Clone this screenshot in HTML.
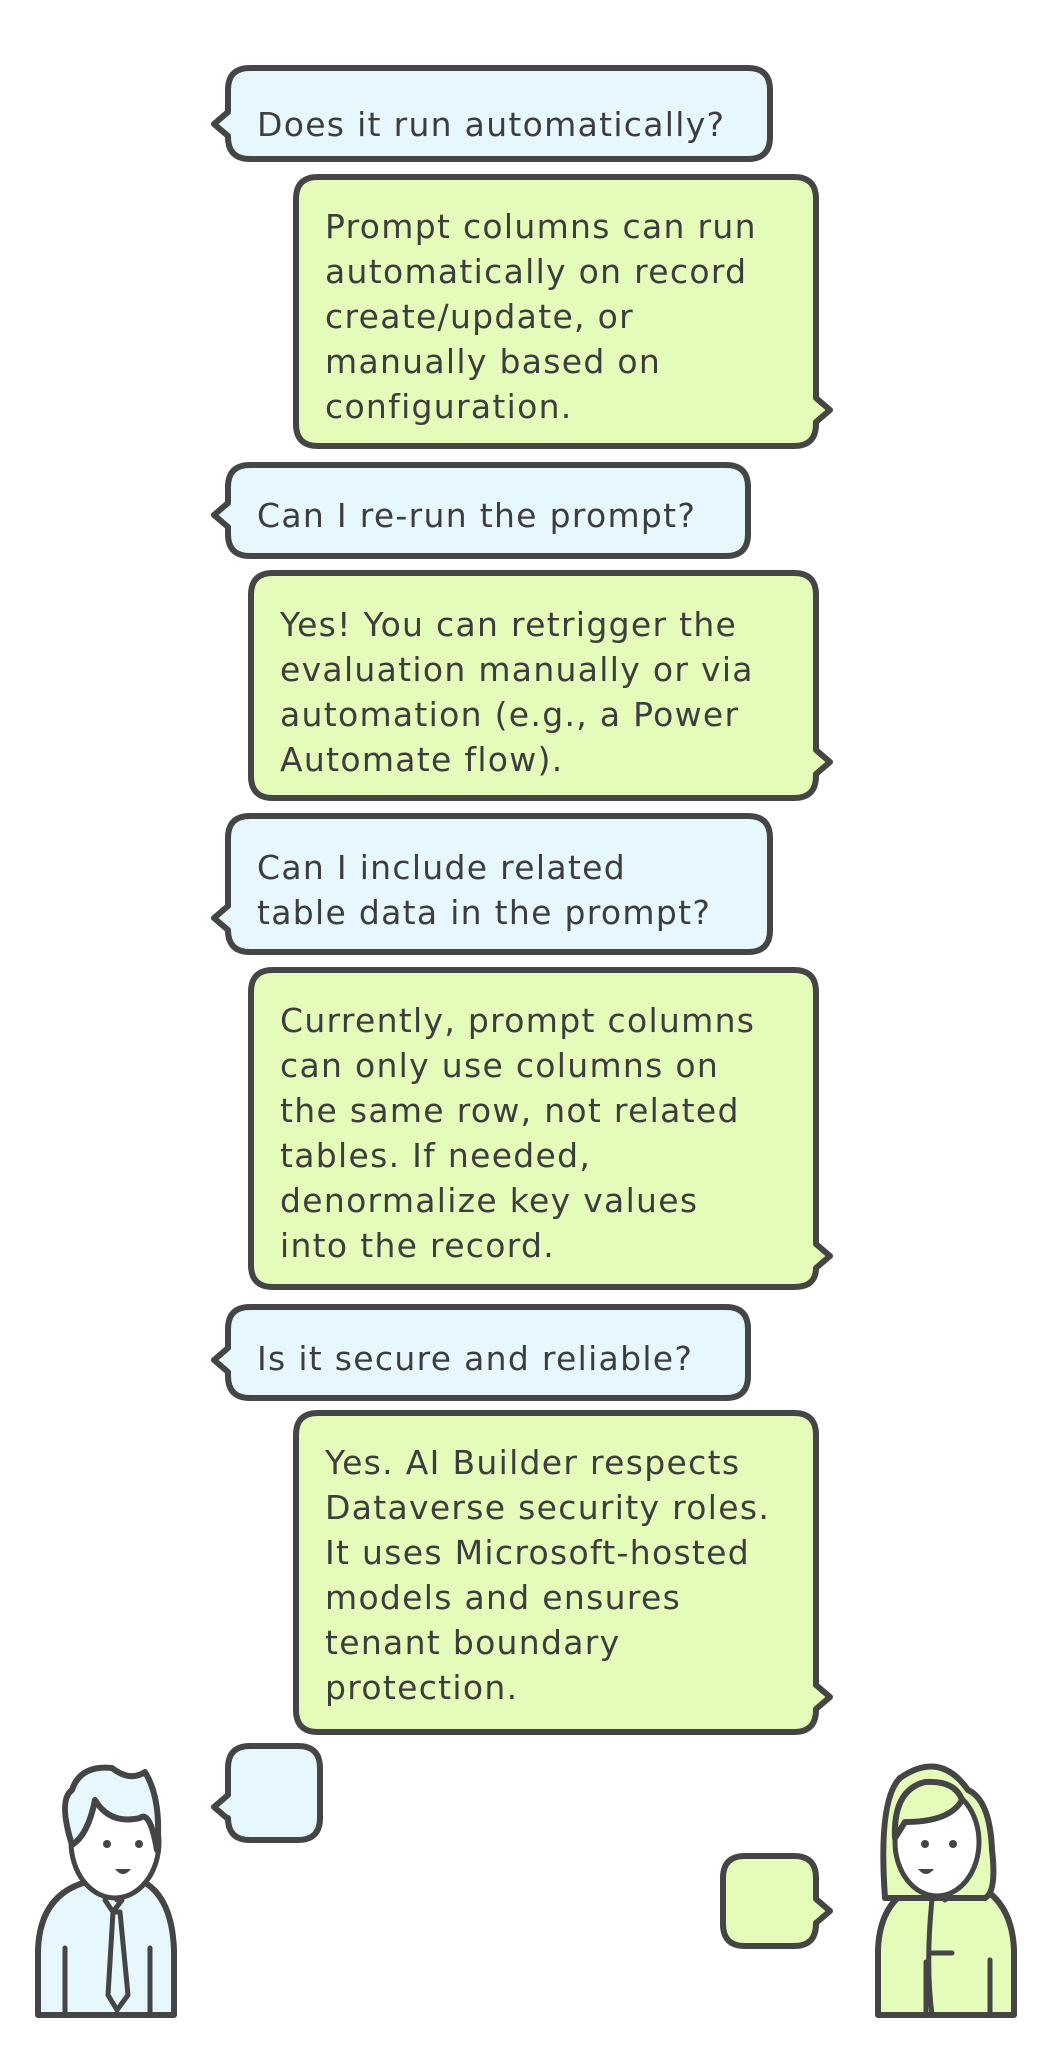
<!DOCTYPE html>
<html><head><meta charset="utf-8"><style>
html,body{margin:0;padding:0;background:#fff;}
svg{display:block;}
text{font-family:"DejaVu Sans","Liberation Sans",sans-serif;font-size:33px;fill:#3d3d3d;letter-spacing:1.3px;}
.b{fill:#e6f7fe;stroke:#454545;stroke-width:6;stroke-linejoin:round;}
.g{fill:#e5fbb9;stroke:#454545;stroke-width:6;stroke-linejoin:round;}
.l{fill:none;stroke:#454545;stroke-width:5;stroke-linecap:round;stroke-linejoin:round;}
.w{fill:#fff;stroke:#454545;stroke-width:5;stroke-linejoin:round;}
</style></head><body>
<svg width="1040" height="2046" viewBox="0 0 1040 2046" xmlns="http://www.w3.org/2000/svg">
<path class="b" d="M250,68 H748 Q770,68 770,90 V137 Q770,159 748,159 H250 Q228,159 228,137 V136 L214,124 L228,112 V90 Q228,68 250,68 Z"/>
<text x="257" y="136">Does it run automatically?</text>

<path class="g" d="M318,177 H794 Q816,177 816,199 V398 L830,410 L816,422 V424 Q816,446 794,446 H318 Q296,446 296,424 V199 Q296,177 318,177 Z"/>
<text x="325" y="238">Prompt columns can run</text>
<text x="325" y="283">automatically on record</text>
<text x="325" y="328">create/update, or</text>
<text x="325" y="373">manually based on</text>
<text x="325" y="418">configuration.</text>

<path class="b" d="M250,465 H726 Q748,465 748,487 V534 Q748,556 726,556 H250 Q228,556 228,534 V527 L214,515 L228,503 V487 Q228,465 250,465 Z"/>
<text x="257" y="527">Can I re-run the prompt?</text>

<path class="g" d="M273,573 H794 Q816,573 816,595 V750 L830,762 L816,774 V776 Q816,798 794,798 H273 Q251,798 251,776 V595 Q251,573 273,573 Z"/>
<text x="280" y="636">Yes! You can retrigger the</text>
<text x="280" y="681">evaluation manually or via</text>
<text x="280" y="726">automation (e.g., a Power</text>
<text x="280" y="771">Automate flow).</text>

<path class="b" d="M250,816 H748 Q770,816 770,838 V930 Q770,952 748,952 H250 Q228,952 228,930 V930 L214,918 L228,906 V838 Q228,816 250,816 Z"/>
<text x="257" y="879">Can I include related</text>
<text x="257" y="924">table data in the prompt?</text>

<path class="g" d="M273,970 H794 Q816,970 816,992 V1244 L830,1256 L816,1268 Q816,1287 794,1287 H273 Q251,1287 251,1265 V992 Q251,970 273,970 Z"/>
<text x="280" y="1032">Currently, prompt columns</text>
<text x="280" y="1077">can only use columns on</text>
<text x="280" y="1122">the same row, not related</text>
<text x="280" y="1167">tables. If needed,</text>
<text x="280" y="1212">denormalize key values</text>
<text x="280" y="1257">into the record.</text>

<path class="b" d="M250,1307 H726 Q748,1307 748,1329 V1376 Q748,1398 726,1398 H250 Q228,1398 228,1376 V1372 L214,1360 L228,1348 V1329 Q228,1307 250,1307 Z"/>
<text x="257" y="1370">Is it secure and reliable?</text>

<path class="g" d="M318,1413 H794 Q816,1413 816,1435 V1685 L830,1697 L816,1709 V1710 Q816,1732 794,1732 H318 Q296,1732 296,1710 V1435 Q296,1413 318,1413 Z"/>
<text x="325" y="1474">Yes. AI Builder respects</text>
<text x="325" y="1519">Dataverse security roles.</text>
<text x="325" y="1564">It uses Microsoft-hosted</text>
<text x="325" y="1609">models and ensures</text>
<text x="325" y="1654">tenant boundary</text>
<text x="325" y="1699">protection.</text>

<path class="b" d="M250,1746 H298 Q320,1746 320,1768 V1818 Q320,1840 298,1840 H250 Q228,1840 228,1818 V1819 L214,1807 L228,1795 V1768 Q228,1746 250,1746 Z"/>
<path class="g" d="M745,1856 H794 Q816,1856 816,1878 V1899 L830,1911 L816,1923 V1924 Q816,1946 794,1946 H745 Q723,1946 723,1924 V1878 Q723,1856 745,1856 Z"/>

<!-- man -->
<path class="b" d="M38,2015 V1950 Q40,1890 95,1880 L140,1880 Q172,1895 174,1950 V2015 Z"/>
<path class="w" d="M102,1878 L117,1900 L132,1878 L128,1858 L106,1858 Z"/>
<path class="l" d="M113,1912 L108,1995 L117,2010 L128,1995 L120,1912 Z M105,1900 L113,1912 L122,1900"/>
<path class="l" d="M65,1948 V2015 M150,1948 V2015"/>
<ellipse class="w" cx="115" cy="1842" rx="44" ry="56"/>
<path class="b" d="M72,1845 Q58,1800 72,1790 Q80,1765 112,1768 Q130,1782 145,1772 Q162,1800 157,1850 Q150,1810 140,1818 Q110,1825 95,1800 Q88,1835 72,1845 Z"/>
<circle cx="107" cy="1844" r="4" fill="#454545"/><circle cx="139" cy="1844" r="4" fill="#454545"/>
<path d="M115,1869 Q123,1879 131,1869 Z" fill="#454545"/>

<!-- woman -->
<path class="g" d="M878,2015 V1950 Q880,1890 935,1880 L965,1880 Q1012,1895 1014,1950 V2015 Z"/>
<path class="l" d="M935,1882 L945,1900 L955,1882 M926,1962 V2015 M990,1960 V2015 M933,1890 Q925,1960 932,2015"/>
<path class="l" d="M930,1953 H952"/>
<path class="g" d="M885,1898 Q878,1800 900,1778 Q940,1750 968,1790 Q990,1800 992,1850 Q997,1892 985,1898 Z"/>
<ellipse class="w" cx="937" cy="1842" rx="42" ry="54"/>
<path class="g" d="M895,1838 Q893,1790 925,1782 Q955,1780 962,1800 Q950,1822 905,1822 Z"/>
<circle cx="925" cy="1844" r="4" fill="#454545"/><circle cx="953" cy="1844" r="4" fill="#454545"/>
<path d="M918,1869 Q926,1879 934,1869 Z" fill="#454545"/>
</svg>
</body></html>
